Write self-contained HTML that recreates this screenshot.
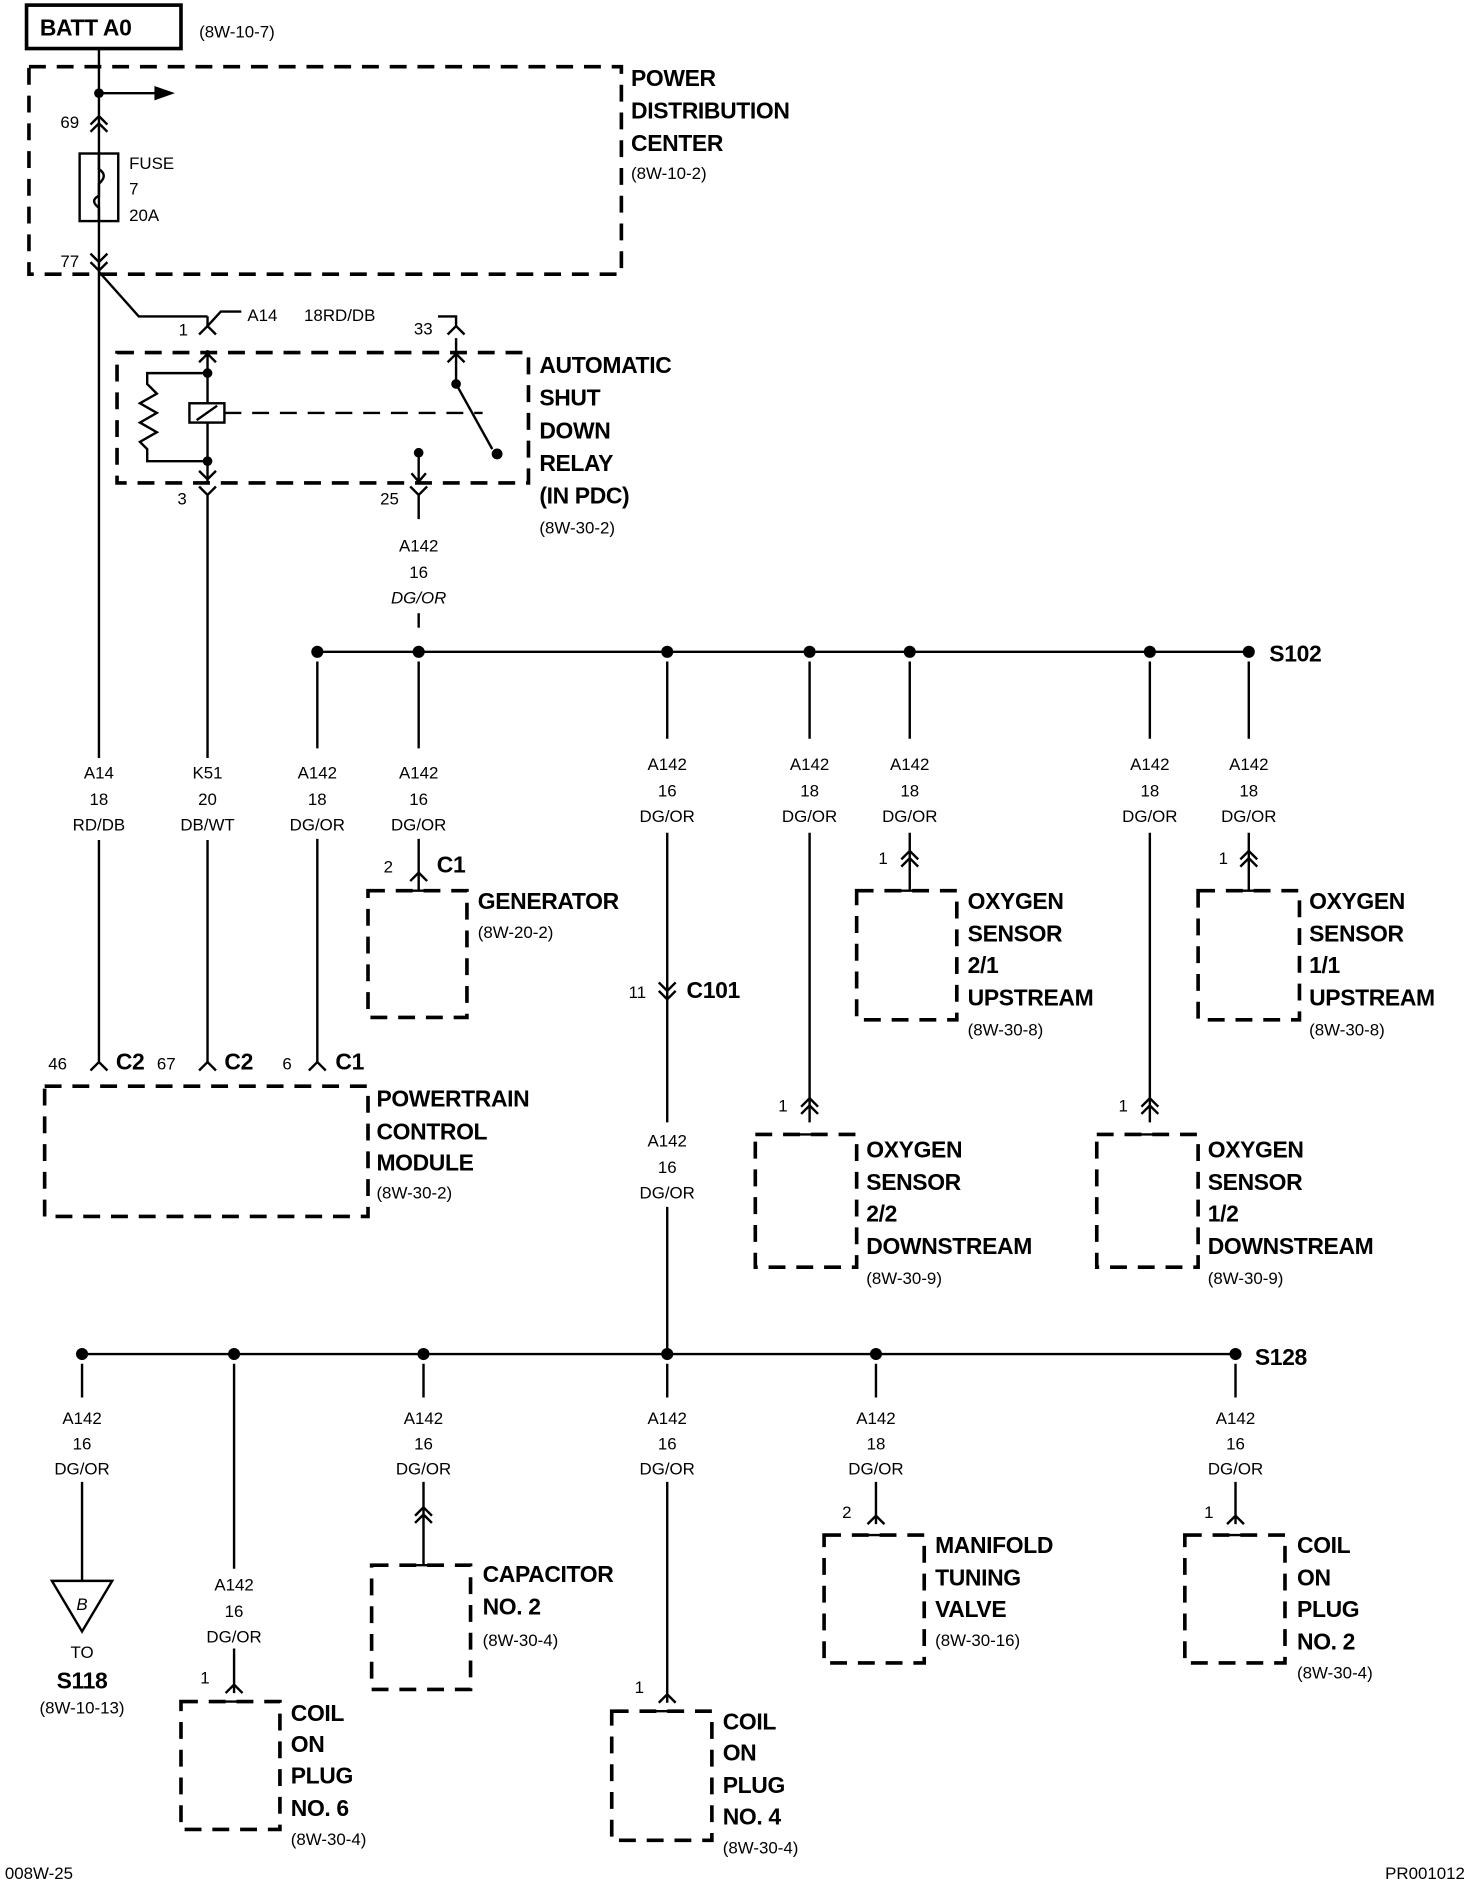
<!DOCTYPE html>
<html><head><meta charset="utf-8"><style>
html,body{margin:0;padding:0;background:#fff}
svg{display:block}
text{font-family:"Liberation Sans Narrow","Liberation Sans",sans-serif;fill:#000}
.b{font-weight:bold;font-size:19px;letter-spacing:-0.3px}
.s{font-size:14px}
.w{stroke:#000;stroke-width:2;fill:none}
.d{stroke:#000;stroke-width:3;fill:none;stroke-dasharray:14 9}
</style></head><body>
<svg width="1472" height="1884" viewBox="0 0 1220 1561" xmlns="http://www.w3.org/2000/svg">
<rect x="0" y="0" width="1220" height="1561" fill="#fff"/>
<rect x="22" y="4" width="128" height="36" fill="none" stroke="#000" stroke-width="3"/>
<text x="33" y="29" class="b">BATT A0</text>
<text x="165" y="31" class="s">(8W-10-7)</text>
<rect x="24" y="55" width="491" height="172" class="d"/>
<text x="523" y="71" class="b">POWER</text>
<text x="523" y="98" class="b">DISTRIBUTION</text>
<text x="523" y="125" class="b">CENTER</text>
<text x="523" y="148" class="s">(8W-10-2)</text>
<path d="M82 40 V628 M82 696 V880" class="w"/>
<circle cx="82" cy="77" r="4"/>
<line x1="82" y1="77" x2="130" y2="77" class="w"/>
<path d="M128 71 L145 77 L128 83 Z"/>
<path d="M75 103 L82 96 L89 103 M75 109 L82 102 L89 109" class="w"/>
<text x="50" y="106" class="s">69</text>
<rect x="66" y="127" width="32" height="56" class="w"/>
<path d="M82 127 V140 Q90 145 82 152 V162 Q74 166 82 172 V183" class="w"/>
<text x="107" y="140" class="s">FUSE</text>
<text x="107" y="161" class="s">7</text>
<text x="107" y="183" class="s">20A</text>
<path d="M75 210 L82 217 L89 210 M75 217 L82 224 L89 217" class="w"/>
<text x="50" y="221" class="s">77</text>
<path d="M82 225 L115 262 L172 262" class="w"/>
<path d="M165 277 L172 270 L179 277 M172 270 L172 262 M172 270 L183 258 L200 258" class="w"/>
<text x="148" y="278" class="s">1</text>
<text x="205" y="266" class="s">A14</text>
<text x="252" y="266" class="s">18RD/DB</text>
<text x="343" y="277" class="s">33</text>
<path d="M363 262 L378 262 L378 270 M371 277 L378 270 L385 277" class="w"/>
<rect x="97" y="292" width="341" height="108" class="d"/>
<text x="447" y="309" class="b">AUTOMATIC</text>
<text x="447" y="336" class="b">SHUT</text>
<text x="447" y="363" class="b">DOWN</text>
<text x="447" y="390" class="b">RELAY</text>
<text x="447" y="417" class="b">(IN PDC)</text>
<text x="447" y="442" class="s">(8W-30-2)</text>
<path d="M172 290 V400 M165 300 L172 293 L179 300 M165 390 L172 397 L179 390" class="w"/>
<circle cx="172" cy="309" r="4"/><circle cx="172" cy="382" r="4"/>
<path d="M172 309 H122 V318 L130 326 L116 334 L130 342 L116 350 L130 358 L116 366 L122 372 V382 H172" class="w"/>
<rect x="157" y="334" width="29" height="16" fill="#fff" stroke="#000" stroke-width="2"/>
<line x1="163" y1="348" x2="180" y2="336" class="w"/>
<line x1="186" y1="342" x2="400" y2="342" stroke="#000" stroke-width="2" stroke-dasharray="14 9"/>
<path d="M378 280 V318 M371 300 L378 293 L385 300" class="w"/>
<circle cx="378" cy="318" r="4"/>
<line x1="378" y1="318" x2="408" y2="372" class="w"/>
<circle cx="412" cy="376" r="4.5"/>
<circle cx="347" cy="375" r="4"/>
<path d="M347 375 V400 M341 392 L347 399 L353 392" class="w"/>
<path d="M165 403 L172 410 L179 403 M172 410 V628 M172 696 V880" class="w"/>
<text x="147" y="418" class="s">3</text>
<path d="M340 403 L347 410 L354 403 M347 410 V430" class="w"/>
<text x="315" y="418" class="s">25</text>
<text x="347" y="457" class="s" text-anchor="middle">A142</text>
<text x="347" y="479" class="s" text-anchor="middle">16</text>
<text x="347" y="500" class="s" text-anchor="middle" font-style="italic">DG/OR</text>
<line x1="347" y1="508" x2="347" y2="520" class="w"/>
<line x1="263" y1="540" x2="1035" y2="540" class="w"/>
<g><circle cx="263" cy="540" r="5"/><circle cx="347" cy="540" r="5"/><circle cx="553" cy="540" r="5"/><circle cx="671" cy="540" r="5"/><circle cx="754" cy="540" r="5"/><circle cx="953" cy="540" r="5"/><circle cx="1035" cy="540" r="5"/></g>
<text x="1052" y="548" class="b">S102</text>
<g class="s" text-anchor="middle" font-size="14">
<text x="82" y="645">A14</text><text x="82" y="667">18</text><text x="82" y="688">RD/DB</text>
<text x="172" y="645">K51</text><text x="172" y="667">20</text><text x="172" y="688">DB/WT</text>
<text x="263" y="645">A142</text><text x="263" y="667">18</text><text x="263" y="688">DG/OR</text>
<text x="347" y="645">A142</text><text x="347" y="667">16</text><text x="347" y="688">DG/OR</text>
<text x="553" y="638">A142</text><text x="553" y="660">16</text><text x="553" y="681">DG/OR</text>
<text x="671" y="638">A142</text><text x="671" y="660">18</text><text x="671" y="681">DG/OR</text>
<text x="754" y="638">A142</text><text x="754" y="660">18</text><text x="754" y="681">DG/OR</text>
<text x="953" y="638">A142</text><text x="953" y="660">18</text><text x="953" y="681">DG/OR</text>
<text x="1035" y="638">A142</text><text x="1035" y="660">18</text><text x="1035" y="681">DG/OR</text>
<text x="553" y="950">A142</text><text x="553" y="972">16</text><text x="553" y="993">DG/OR</text>
</g>
<g class="w">
<path d="M263 548 V620 M263 695 V880"/>
<path d="M347 548 V620 M347 695 V725"/>
<path d="M553 548 V612 M553 690 V930 M553 1000 V1122"/>
<path d="M671 548 V612 M671 690 V930"/>
<path d="M754 548 V612 M754 690 V738"/>
<path d="M953 548 V612 M953 690 V930"/>
<path d="M1035 548 V612 M1035 690 V738"/>
<path d="M75 887 L82 880 L89 887 M165 887 L172 880 L179 887 M256 887 L263 880 L270 887"/>
<path d="M340 730 L347 723 L354 730 M347 723 V738 M337 738 H357"/>
<path d="M546 814 L553 821 L560 814 M546 821 L553 828 L560 821"/>
<path d="M747 712 L754 705 L761 712 M747 718 L754 711 L761 718 M744 738 H764"/>
<path d="M1028 712 L1035 705 L1042 712 M1028 718 L1035 711 L1042 718 M1025 738 H1045"/>
<path d="M664 917 L671 910 L678 917 M664 923 L671 916 L678 923 M661 940 H681"/>
<path d="M946 917 L953 910 L960 917 M946 923 L953 916 L960 923 M943 940 H963"/>
</g>
<text x="318" y="723" class="s">2</text><text x="362" y="723" class="b">C1</text>
<text x="521" y="827" class="s">11</text><text x="569" y="827" class="b">C101</text>
<text x="728" y="716" class="s">1</text><text x="1010" y="716" class="s">1</text>
<text x="645" y="921" class="s">1</text><text x="927" y="921" class="s">1</text>
<text x="40" y="886" class="s">46</text><text x="96" y="886" class="b">C2</text>
<text x="130" y="886" class="s">67</text><text x="186" y="886" class="b">C2</text>
<text x="234" y="886" class="s">6</text><text x="278" y="886" class="b">C1</text>
<rect x="37" y="900" width="268" height="108" class="d"/>
<text x="312" y="917" class="b">POWERTRAIN</text><text x="312" y="944" class="b">CONTROL</text><text x="312" y="970" class="b">MODULE</text><text x="312" y="993" class="s">(8W-30-2)</text>
<rect x="305" y="738" width="82" height="105" class="d"/>
<text x="396" y="753" class="b">GENERATOR</text><text x="396" y="777" class="s">(8W-20-2)</text>
<rect x="710" y="738" width="83" height="107" class="d"/>
<text x="802" y="753" class="b">OXYGEN</text><text x="802" y="780" class="b">SENSOR</text><text x="802" y="806" class="b">2/1</text><text x="802" y="833" class="b">UPSTREAM</text><text x="802" y="858" class="s">(8W-30-8)</text>
<rect x="993" y="738" width="84" height="107" class="d"/>
<text x="1085" y="753" class="b">OXYGEN</text><text x="1085" y="780" class="b">SENSOR</text><text x="1085" y="806" class="b">1/1</text><text x="1085" y="833" class="b">UPSTREAM</text><text x="1085" y="858" class="s">(8W-30-8)</text>
<rect x="626" y="940" width="84" height="110" class="d"/>
<text x="718" y="959" class="b">OXYGEN</text><text x="718" y="986" class="b">SENSOR</text><text x="718" y="1012" class="b">2/2</text><text x="718" y="1039" class="b">DOWNSTREAM</text><text x="718" y="1064" class="s">(8W-30-9)</text>
<rect x="909" y="940" width="84" height="110" class="d"/>
<text x="1001" y="959" class="b">OXYGEN</text><text x="1001" y="986" class="b">SENSOR</text><text x="1001" y="1012" class="b">1/2</text><text x="1001" y="1039" class="b">DOWNSTREAM</text><text x="1001" y="1064" class="s">(8W-30-9)</text>
<line x1="68" y1="1122" x2="1024" y2="1122" class="w"/>
<g><circle cx="68" cy="1122" r="5"/><circle cx="194" cy="1122" r="5"/><circle cx="351" cy="1122" r="5"/><circle cx="553" cy="1122" r="5"/><circle cx="726" cy="1122" r="5"/><circle cx="1024" cy="1122" r="5"/></g>
<text x="1040" y="1131" class="b">S128</text>
<g class="s" text-anchor="middle" font-size="14">
<text x="68" y="1180">A142</text><text x="68" y="1201">16</text><text x="68" y="1222">DG/OR</text>
<text x="351" y="1180">A142</text><text x="351" y="1201">16</text><text x="351" y="1222">DG/OR</text>
<text x="553" y="1180">A142</text><text x="553" y="1201">16</text><text x="553" y="1222">DG/OR</text>
<text x="726" y="1180">A142</text><text x="726" y="1201">18</text><text x="726" y="1222">DG/OR</text>
<text x="1024" y="1180">A142</text><text x="1024" y="1201">16</text><text x="1024" y="1222">DG/OR</text>
<text x="194" y="1318">A142</text><text x="194" y="1340">16</text><text x="194" y="1361">DG/OR</text>
<text x="68" y="1374">TO</text><text x="68" y="1420">(8W-10-13)</text>
</g>
<text x="68" y="1399" class="b" text-anchor="middle">S118</text>
<g class="w">
<path d="M68 1130 V1158 M68 1228 V1310"/>
<path d="M43 1310 H93 L68 1352 Z"/>
<path d="M194 1130 V1300 M194 1366 V1403 M187 1403 L194 1396 L201 1403 M184 1410 H204"/>
<path d="M351 1130 V1158 M351 1228 V1297 M344 1256 L351 1249 L358 1256 M344 1262 L351 1255 L358 1262 M341 1297 H361"/>
<path d="M553 1130 V1158 M553 1228 V1411 M546 1411 L553 1404 L560 1411 M543 1418 H563"/>
<path d="M726 1130 V1158 M726 1228 V1263 M719 1263 L726 1256 L733 1263 M716 1272 H736"/>
<path d="M1024 1130 V1158 M1024 1228 V1263 M1017 1263 L1024 1256 L1031 1263 M1014 1272 H1034"/>
</g>
<text x="68" y="1334" font-size="14" font-style="italic" text-anchor="middle">B</text>
<text x="166" y="1395" class="s">1</text>
<text x="698" y="1258" class="s">2</text>
<text x="526" y="1403" class="s">1</text>
<text x="998" y="1258" class="s">1</text>
<rect x="150" y="1410" width="82" height="106" class="d"/>
<text x="241" y="1426" class="b">COIL</text><text x="241" y="1452" class="b">ON</text><text x="241" y="1478" class="b">PLUG</text><text x="241" y="1505" class="b">NO. 6</text><text x="241" y="1529" class="s">(8W-30-4)</text>
<rect x="308" y="1297" width="82" height="103" class="d"/>
<text x="400" y="1311" class="b">CAPACITOR</text><text x="400" y="1338" class="b">NO. 2</text><text x="400" y="1364" class="s">(8W-30-4)</text>
<rect x="507" y="1418" width="83" height="107" class="d"/>
<text x="599" y="1433" class="b">COIL</text><text x="599" y="1459" class="b">ON</text><text x="599" y="1486" class="b">PLUG</text><text x="599" y="1512" class="b">NO. 4</text><text x="599" y="1536" class="s">(8W-30-4)</text>
<rect x="683" y="1272" width="83" height="106" class="d"/>
<text x="775" y="1287" class="b">MANIFOLD</text><text x="775" y="1314" class="b">TUNING</text><text x="775" y="1340" class="b">VALVE</text><text x="775" y="1364" class="s">(8W-30-16)</text>
<rect x="982" y="1272" width="83" height="106" class="d"/>
<text x="1075" y="1287" class="b">COIL</text><text x="1075" y="1314" class="b">ON</text><text x="1075" y="1340" class="b">PLUG</text><text x="1075" y="1367" class="b">NO. 2</text><text x="1075" y="1391" class="s">(8W-30-4)</text>
<text x="4" y="1557" class="s">008W-25</text>
<text x="1148" y="1557" class="s">PR001012</text>
</svg>
</body></html>
